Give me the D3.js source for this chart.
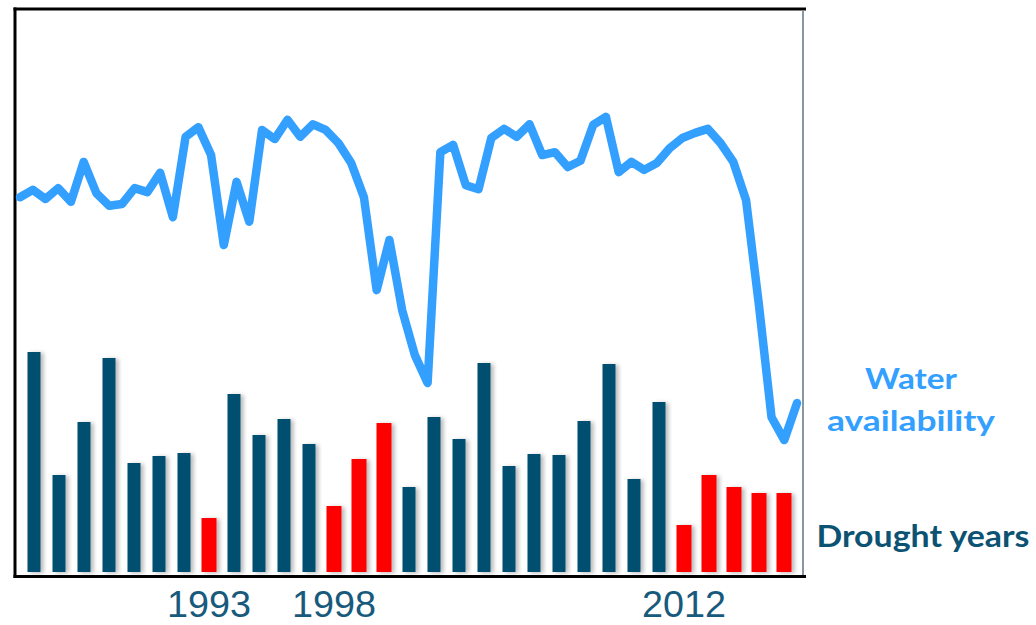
<!DOCTYPE html>
<html>
<head>
<meta charset="utf-8">
<script src="https://cdn.jsdelivr.net/npm/d3@7"></script>
<style>
  html, body { margin: 0; padding: 0; background: #fff; }
  svg { display: block; }
</style>
</head>
<body>
<svg id="chart" width="1036" height="625"></svg>
<script>
// ---- DATA ----
const years = d3.range(1986, 2017); // 1986..2016
const droughtIndex = [220, 97, 150, 214, 109, 116, 119, 54, 178, 137, 153, 128, 66, 113, 149, 85,
                      155, 133, 209, 106, 118, 117, 151, 208, 93, 170, 47, 97, 85, 79, 79];
const droughtYears = [1993, 1998, 1999, 2000, 2012, 2013, 2014, 2015, 2016];
const tickYears = [1993, 1998, 2012];
// half-yearly water availability (62 points)
const waterAvailability = [66.8, 68.1, 66.5, 68.4, 66.0, 73.0, 67.5, 65.3, 65.6, 68.4,
                           67.7, 71.1, 63.3, 77.4, 79.1, 74.2, 58.4, 69.5, 62.5, 78.6,
                           77.0, 80.4, 77.4, 79.6, 78.6, 76.3, 72.8, 66.8, 50.5, 59.3,
                           47.0, 39.1, 34.2, 74.7, 76.0, 68.9, 68.2, 77.2, 78.8, 77.4,
                           79.6, 74.2, 74.7, 72.1, 73.2, 79.5, 80.9, 71.2, 73.0, 71.6,
                           72.8, 75.4, 77.2, 78.1, 78.8, 76.3, 73.0, 66.3, 48.1, 28.2,
                           24.2, 30.7];
const legendLabels = { water: ["Water", "availability"], drought: "Drought years" };

// ---- LAYOUT ----
const svg = d3.select("#chart");
const frame = { left: 15, top: 9, right: 803, bottom: 576.5 };
const barBase = 572;

const x = d3.scaleBand().domain(years).range([21.5, 796.5]).paddingInner(0.48).paddingOuter(0.24);
const yBar = d3.scaleLinear().domain([0, 250]).range([barBase, barBase - 250]);
const xLine = d3.scaleLinear().domain([0, waterAvailability.length - 1]).range([20, 797]);
const yLine = d3.scaleLinear().domain([0, 100]).range([578, 8]);

const defs = svg.append("defs");
const f = defs.append("filter").attr("id", "shadow").attr("x", "-50%").attr("y", "-10%").attr("width", "200%").attr("height", "120%");
f.append("feDropShadow").attr("dx", 3).attr("dy", 1).attr("stdDeviation", 2)
  .attr("flood-color", "#000").attr("flood-opacity", 0.28);

// bars
const isDrought = d => droughtYears.includes(d);
svg.append("g").selectAll("rect").data(years).join("rect")
  .attr("x", d => isDrought(d) ? x(d) - 1 : x(d))
  .attr("width", d => isDrought(d) ? x.bandwidth() + 2 : x.bandwidth())
  .attr("y", (d, i) => yBar(droughtIndex[i]))
  .attr("height", (d, i) => barBase - yBar(droughtIndex[i]))
  .attr("fill", d => isDrought(d) ? "#ff0000" : "#00506f")
  .attr("filter", "url(#shadow)");

// frame
const fg = svg.append("g");
fg.append("line").attr("x1", frame.left - 1.5).attr("x2", frame.right + 3).attr("y1", frame.top).attr("y2", frame.top)
  .attr("stroke", "#000").attr("stroke-width", 3);
fg.append("line").attr("x1", frame.left).attr("x2", frame.left).attr("y1", frame.top - 1.5).attr("y2", frame.bottom + 1.5)
  .attr("stroke", "#000").attr("stroke-width", 3);
fg.append("line").attr("x1", frame.right).attr("x2", frame.right).attr("y1", frame.top + 1.5).attr("y2", frame.bottom)
  .attr("stroke", "#8996a3").attr("stroke-width", 2);
fg.append("line").attr("x1", frame.left - 1.5).attr("x2", frame.right + 3).attr("y1", frame.bottom).attr("y2", frame.bottom)
  .attr("stroke", "#000").attr("stroke-width", 3);

// line
const line = d3.line().x((d, i) => xLine(i)).y(d => yLine(d));
svg.append("path").datum(waterAvailability)
  .attr("d", line)
  .attr("fill", "none")
  .attr("stroke", "#339fff")
  .attr("stroke-width", 8.5)
  .attr("stroke-linejoin", "round")
  .attr("stroke-linecap", "round");

// year labels
svg.append("g").selectAll("text").data(tickYears).join("text")
  .attr("x", d => x(d) + x.bandwidth() / 2)
  .attr("y", 617)
  .attr("text-anchor", "middle")
  .attr("font-family", "Liberation Sans, Arial, sans-serif")
  .attr("font-size", 37)
  .attr("textLength", 84)
  .attr("lengthAdjust", "spacingAndGlyphs")
  .attr("fill", "#175a7c")
  .text(d => d);

// legend labels
const lg = svg.append("g").attr("font-family", "Lato, 'Open Sans', sans-serif").attr("font-weight", "bold").attr("text-anchor", "middle");
lg.append("text").attr("x", 911).attr("y", 389).attr("font-size", 29).attr("fill", "#339fff")
  .attr("textLength", 92).attr("lengthAdjust", "spacingAndGlyphs").text(legendLabels.water[0]);
lg.append("text").attr("x", 911).attr("y", 431).attr("font-size", 29).attr("fill", "#339fff")
  .attr("textLength", 168).attr("lengthAdjust", "spacingAndGlyphs").text(legendLabels.water[1]);
lg.append("text").attr("x", 923).attr("y", 547).attr("font-size", 30).attr("fill", "#0c5272")
  .attr("textLength", 213).attr("lengthAdjust", "spacingAndGlyphs").text(legendLabels.drought);
</script>
</body>
</html>
